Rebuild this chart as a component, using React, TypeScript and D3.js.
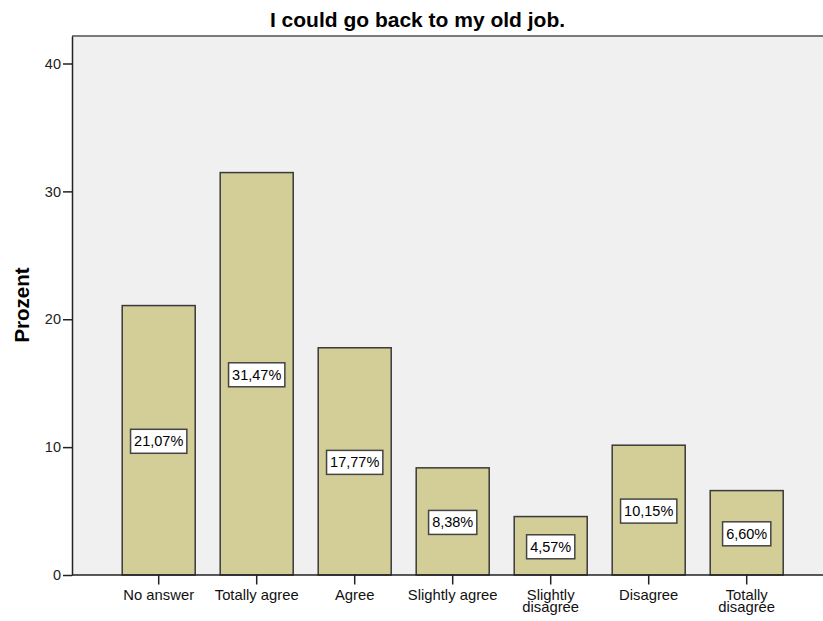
import React, { useEffect, useRef } from "react";
import * as d3 from "d3";

const categories: string[][] = [
  ["No answer"],
  ["Totally agree"],
  ["Agree"],
  ["Slightly agree"],
  ["Slightly", "disagree"],
  ["Disagree"],
  ["Totally", "disagree"],
];
const values: number[] = [21.07, 31.47, 17.77, 8.38, 4.57, 10.15, 6.6];
const valueLabels: string[] = ["21,07%", "31,47%", "17,77%", "8,38%", "4,57%", "10,15%", "6,60%"];
const yTicks: number[] = [0, 10, 20, 30, 40];
const title = "I could go back to my old job.";
const yTitle = "Prozent";

const W = 823;
const H = 621;
const FONT = "'Liberation Sans', Arial, sans-serif";

export default function App() {
  const ref = useRef<SVGSVGElement>(null);

  useEffect(() => {
    const svg = d3.select(ref.current);
    svg.selectAll("*").remove();

    const plotLeft = 72;
    const plotTop = 36;
    const plotRight = W + 2;
    const y0 = 575;
    const y40 = 63.5;
    const unit = (y0 - y40) / 40;
    const yMax = (y0 - plotTop) / unit;

    const y = d3.scaleLinear().domain([0, yMax]).range([y0, plotTop]);
    const x = d3
      .scaleBand<number>()
      .domain(d3.range(values.length))
      .range([109.7, 109.7 + 98 * values.length])
      .paddingInner(25 / 98)
      .paddingOuter(12.5 / 98);

    svg
      .append("rect")
      .attr("x", plotLeft)
      .attr("y", plotTop)
      .attr("width", plotRight - plotLeft)
      .attr("height", y0 - plotTop)
      .attr("fill", "#f0f0f0");

    svg
      .append("line")
      .attr("x1", plotLeft)
      .attr("x2", plotRight)
      .attr("y1", plotTop)
      .attr("y2", plotTop)
      .attr("stroke", "#7a7a7a")
      .attr("stroke-width", 2);

    const g = svg.append("g");
    g.selectAll("rect.bar")
      .data(values)
      .join("rect")
      .attr("class", "bar")
      .attr("x", (_, i) => x(i)!)
      .attr("width", x.bandwidth())
      .attr("y", (d) => y(d))
      .attr("height", (d) => y0 - y(d))
      .attr("fill", "#d3ce97")
      .attr("stroke", "#3a3a3a")
      .attr("stroke-width", 1.5);

    values.forEach((v, i) => {
      const cx = x(i)! + x.bandwidth() / 2;
      const cy = y(v / 2) + 1;
      const lg = svg.append("g");
      const rect = lg.append("rect");
      const t = lg
        .append("text")
        .attr("x", cx)
        .attr("y", cy + 5)
        .attr("text-anchor", "middle")
        .attr("font-family", FONT)
        .attr("font-size", 14.5)
        .attr("fill", "#000")
        .text(valueLabels[i]);
      const bb = (t.node() as SVGTextElement).getBBox();
      const bw = bb.width + 7;
      rect
        .attr("x", cx - bw / 2)
        .attr("y", cy - 12)
        .attr("width", bw)
        .attr("height", 24)
        .attr("fill", "#fff")
        .attr("stroke", "#444")
        .attr("stroke-width", 1.5);
    });

    const yAxis = d3
      .axisLeft(y)
      .tickValues(yTicks)
      .tickSize(9)
      .tickSizeOuter(0)
      .tickFormat((d) => String(d));
    const ya = svg.append("g").attr("transform", `translate(${plotLeft},0)`).call(yAxis);
    ya.select(".domain").attr("stroke", "#222").attr("stroke-width", 1.5);
    ya.selectAll(".tick line").attr("stroke", "#222").attr("stroke-width", 1.5);
    ya.selectAll(".tick text")
      .attr("font-family", FONT)
      .attr("font-size", 14.5)
      .attr("fill", "#222")
      .attr("x", -11);

    svg
      .append("line")
      .attr("x1", plotLeft)
      .attr("x2", plotRight)
      .attr("y1", y0)
      .attr("y2", y0)
      .attr("stroke", "#222")
      .attr("stroke-width", 1.5);

    categories.forEach((lines, i) => {
      const cx = x(i)! + x.bandwidth() / 2;
      svg
        .append("line")
        .attr("x1", cx)
        .attr("x2", cx)
        .attr("y1", y0)
        .attr("y2", y0 + 9.5)
        .attr("stroke", "#222")
        .attr("stroke-width", 1.5);
      lines.forEach((ln, j) => {
        svg
          .append("text")
          .attr("x", cx)
          .attr("y", 599.5 + j * 12.8)
          .attr("text-anchor", "middle")
          .attr("font-family", FONT)
          .attr("font-size", 14.8)
          .attr("fill", "#111")
          .text(ln);
      });
    });

    svg
      .append("text")
      .attr("x", 417.5)
      .attr("y", 26.5)
      .attr("text-anchor", "middle")
      .attr("font-family", FONT)
      .attr("font-weight", "bold")
      .attr("font-size", 21)
      .attr("fill", "#000")
      .text(title);

    svg
      .append("text")
      .attr("transform", `translate(28.5,305) rotate(-90)`)
      .attr("text-anchor", "middle")
      .attr("font-family", FONT)
      .attr("font-weight", "bold")
      .attr("font-size", 20.5)
      .attr("fill", "#000")
      .text(yTitle);
  }, []);

  return (
    <svg
      ref={ref}
      width={W}
      height={H}
      style={{ position: "absolute", left: 0, top: 0, background: "#fff" }}
    />
  );
}
